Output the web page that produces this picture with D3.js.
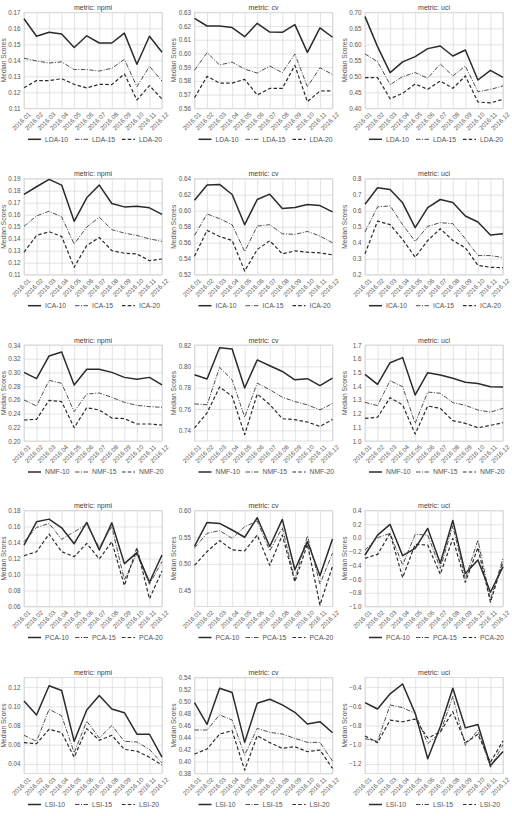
<!DOCTYPE html>
<html><head><meta charset="utf-8">
<script src="https://cdn.jsdelivr.net/npm/d3@7"></script>
<style>
body{margin:0;background:#fff;}
svg{display:block;font-family:"Liberation Sans",Arial,sans-serif;}
</style></head><body>
<svg id="c" width="512" height="816"></svg>
<script>
const months = ["2016.01","2016.02","2016.03","2016.04","2016.05","2016.06","2016.07","2016.08","2016.09","2016.10","2016.11","2016.12"];
const methods = ["LDA","ICA","NMF","PCA","LSI"];
const metrics = ["npmi","cv","uci"];
const topics = [10,15,20];

// series per panel: [topics-10, topics-15, topics-20]
const LDA_npmi = [
  [0.166,0.155,0.1575,0.1565,0.148,0.1553,0.1508,0.1508,0.157,0.1375,0.155,0.145],
  [0.1413,0.1396,0.1383,0.139,0.1342,0.1342,0.1333,0.135,0.1406,0.1235,0.1363,0.127],
  [0.1229,0.1273,0.1273,0.1285,0.125,0.1227,0.125,0.1248,0.1315,0.1152,0.1242,0.1158]];
const LDA_cv = [
  [0.6256,0.62,0.62,0.6189,0.6122,0.622,0.6156,0.6154,0.621,0.6008,0.6186,0.6118],
  [0.5877,0.6006,0.5916,0.5937,0.5886,0.5857,0.5908,0.586,0.5996,0.5757,0.5896,0.5847],
  [0.5677,0.5833,0.5784,0.5784,0.5811,0.5697,0.5745,0.5745,0.5913,0.5648,0.5726,0.5728]];
const LDA_uci = [
  [0.6865,0.5927,0.5115,0.545,0.5615,0.5865,0.5948,0.5635,0.5823,0.4885,0.5188,0.4969],
  [0.570,0.5458,0.474,0.499,0.5115,0.494,0.5385,0.501,0.532,0.452,0.459,0.47],
  [0.496,0.496,0.430,0.447,0.476,0.4594,0.4854,0.4625,0.501,0.4198,0.4167,0.4281]];
const ICA_npmi = [
  [0.1769,0.1833,0.1894,0.1847,0.1545,0.1741,0.1847,0.1693,0.1665,0.1671,0.1657,0.1603],
  [0.1503,0.159,0.1629,0.1582,0.1355,0.1497,0.1579,0.1475,0.1447,0.1427,0.1399,0.1377],
  [0.1287,0.1427,0.1458,0.1419,0.1162,0.1343,0.141,0.1301,0.1279,0.1273,0.1217,0.1231]];
const ICA_cv = [
  [0.6131,0.632,0.6329,0.6203,0.5825,0.614,0.6207,0.6027,0.6039,0.6077,0.6064,0.5985],
  [0.5691,0.5959,0.59,0.5825,0.5489,0.5808,0.5825,0.5712,0.5704,0.5741,0.5683,0.5599],
  [0.5431,0.5754,0.5678,0.5628,0.5246,0.5515,0.5624,0.546,0.5498,0.5481,0.5473,0.5448]];
const ICA_uci = [
  [0.6406,0.7434,0.7329,0.649,0.4937,0.6196,0.67,0.651,0.5671,0.5294,0.4476,0.456],
  [0.4665,0.6238,0.6301,0.5126,0.4077,0.5021,0.5252,0.5189,0.4245,0.3196,0.3196,0.307],
  [0.3301,0.5357,0.5126,0.4203,0.3091,0.414,0.4874,0.414,0.3678,0.2587,0.2461,0.244]];
const NMF_npmi = [
  [0.3001,0.2909,0.324,0.3298,0.2817,0.3045,0.3045,0.3001,0.2928,0.2899,0.2928,0.2817],
  [0.2598,0.251,0.2885,0.2841,0.2428,0.2685,0.27,0.2637,0.2564,0.252,0.2501,0.2491],
  [0.2306,0.2316,0.2593,0.2574,0.2194,0.2486,0.2452,0.2335,0.2326,0.2248,0.2248,0.2233]];
const NMF_cv = [
  [0.7921,0.7881,0.8175,0.8163,0.7797,0.806,0.8005,0.7952,0.7874,0.7884,0.7819,0.789],
  [0.7648,0.7639,0.799,0.7874,0.7524,0.7843,0.7781,0.771,0.767,0.7639,0.7592,0.7651],
  [0.7422,0.7564,0.7806,0.772,0.736,0.7741,0.7642,0.7509,0.75,0.7478,0.7437,0.7502]];
const NMF_uci = [
  [1.486,1.413,1.571,1.608,1.336,1.498,1.481,1.457,1.428,1.42,1.396,1.394],
  [1.282,1.258,1.44,1.396,1.129,1.357,1.348,1.28,1.26,1.226,1.211,1.238],
  [1.165,1.173,1.316,1.263,1.051,1.255,1.238,1.148,1.129,1.097,1.114,1.134]];
const PCA_npmi = [
  [0.1368,0.1659,0.1692,0.1584,0.1385,0.1651,0.1306,0.1646,0.1136,0.1273,0.0903,0.1244],
  [0.141,0.1588,0.1638,0.1439,0.1534,0.1626,0.1339,0.1597,0.0932,0.126,0.0878,0.116],
  [0.1235,0.1285,0.1505,0.1285,0.1223,0.1389,0.1194,0.141,0.0862,0.1335,0.0696,0.1044]];
const PCA_cv = [
  [0.533,0.5777,0.5758,0.5634,0.5498,0.5864,0.5324,0.5833,0.489,0.5417,0.4778,0.5467],
  [0.530,0.5572,0.5622,0.5479,0.5696,0.5802,0.5244,0.5678,0.4705,0.5523,0.4624,0.52],
  [0.4971,0.5231,0.5436,0.5262,0.5244,0.5541,0.4971,0.5541,0.4662,0.5368,0.4228,0.4952]];
const PCA_uci = [
  [-0.249,0.0416,0.197,-0.259,-0.152,0.138,-0.37,0.255,-0.52,-0.322,-0.792,-0.419],
  [-0.176,0.003,0.066,-0.394,0.052,0.042,-0.443,0.177,-0.598,-0.031,-0.903,-0.298],
  [-0.298,-0.239,0.066,-0.578,-0.094,-0.104,-0.53,-0.007,-0.646,-0.142,-0.937,-0.346]];
const LSI_npmi = [
  [0.1056,0.0909,0.1214,0.1165,0.0635,0.0961,0.1112,0.0972,0.0933,0.0709,0.0709,0.047],
  [0.0698,0.0635,0.0968,0.0902,0.0516,0.0846,0.067,0.08,0.0635,0.0628,0.0551,0.041],
  [0.0621,0.0611,0.0761,0.0726,0.047,0.0768,0.0646,0.0698,0.0551,0.0533,0.047,0.0389]];
const LSI_cv = [
  [0.4982,0.462,0.5222,0.5149,0.4319,0.4971,0.5038,0.4943,0.482,0.4626,0.4664,0.448],
  [0.4525,0.4525,0.4776,0.4692,0.4107,0.4553,0.4486,0.4458,0.4386,0.4319,0.4319,0.4007],
  [0.4124,0.4208,0.4458,0.4514,0.3856,0.4431,0.4314,0.4219,0.4247,0.4163,0.4191,0.3884]];
const LSI_uci = [
  [-0.561,-0.628,-0.47,-0.368,-0.674,-1.147,-0.814,-0.411,-0.825,-0.789,-1.218,-1.07],
  [-0.937,-0.965,-0.586,-0.614,-0.674,-0.989,-0.874,-0.498,-1.007,-0.849,-1.235,-1.0],
  [-0.909,-0.979,-0.744,-0.761,-0.733,-0.93,-0.867,-0.656,-0.979,-0.891,-1.182,-0.96]];

// y-axis ticks and limits per panel
const ticks_LDA = [[0.11,0.12,0.13,0.14,0.15,0.16,0.17],[0.56,0.57,0.58,0.59,0.60,0.61,0.62,0.63],[0.40,0.45,0.50,0.55,0.60,0.65,0.70]];
const ticks_ICA = [[0.11,0.12,0.13,0.14,0.15,0.16,0.17,0.18,0.19],[0.52,0.54,0.56,0.58,0.60,0.62,0.64],[0.2,0.3,0.4,0.5,0.6,0.7,0.8]];
const ticks_NMF = [[0.20,0.22,0.24,0.26,0.28,0.30,0.32,0.34],[0.74,0.76,0.78,0.80,0.82],[1.0,1.1,1.2,1.3,1.4,1.5,1.6,1.7]];
const ticks_PCA = [[0.06,0.08,0.10,0.12,0.14,0.16,0.18],[0.45,0.50,0.55,0.60],[-1.0,-0.8,-0.6,-0.4,-0.2,0.0,0.2,0.4]];
const ticks_LSI = [[0.04,0.06,0.08,0.10,0.12],[0.38,0.40,0.42,0.44,0.46,0.48,0.50,0.52,0.54],[-1.2,-1.0,-0.8,-0.6,-0.4]];
const lims_LDA = [[0.11,0.17],[0.56,0.63],[0.40,0.70]];
const lims_ICA = [[0.11,0.19],[0.52,0.64],[0.2,0.8]];
const lims_NMF = [[0.20,0.34],[0.73,0.82],[1.0,1.7]];
const lims_PCA = [[0.06,0.18],[0.42,0.60],[-1.0,0.4]];
const lims_LSI = [[0.03,0.13],[0.38,0.54],[-1.3,-0.3]];
const tickDigits = [2,2,2, 2,2,1, 2,2,1, 2,2,1, 2,2,1];

const seriesTable = {LDA:[LDA_npmi,LDA_cv,LDA_uci],ICA:[ICA_npmi,ICA_cv,ICA_uci],NMF:[NMF_npmi,NMF_cv,NMF_uci],PCA:[PCA_npmi,PCA_cv,PCA_uci],LSI:[LSI_npmi,LSI_cv,LSI_uci]};
const tickTable = {LDA:ticks_LDA,ICA:ticks_ICA,NMF:ticks_NMF,PCA:ticks_PCA,LSI:ticks_LSI};
const limTable = {LDA:lims_LDA,ICA:lims_ICA,NMF:lims_NMF,PCA:lims_PCA,LSI:lims_LSI};

const svg = d3.select("#c");
const W = 138, H = 96;
const colLeft = [24, 194.5, 365];
const rowTop = [12.3, 178.7, 345, 510.5, 677.5];
const styles = [
  {w:1.5, dash:null, col:"#2b2b2b"},
  {w:0.9, dash:"4.5,1.5,1,1.5", col:"#3a3a3a"},
  {w:1.2, dash:"3.5,2.2", col:"#2b2b2b"}
];
const textCol = "#555";

methods.forEach((m, r) => {
  metrics.forEach((met, c) => {
    const g = svg.append("g").attr("transform", `translate(${colLeft[c]},${rowTop[r]})`);
    const x = d3.scalePoint().domain(months).range([0, W]);
    const y = d3.scaleLinear().domain(limTable[m][c]).range([H, 0]);
    const dig = tickDigits[r*3+c];

    // grid via axes
    const gy = g.append("g").call(d3.axisLeft(y).tickValues(tickTable[m][c]).tickSize(-W).tickPadding(3).tickFormat(d3.format("." + dig + "f")));
    const gx = g.append("g").attr("transform", `translate(0,${H})`).call(d3.axisBottom(x).tickSize(-H).tickPadding(3));
    [gy, gx].forEach(a => {
      a.select(".domain").remove();
      a.selectAll(".tick line").attr("stroke", "#dcdcdc").attr("stroke-width", 0.8);
      a.selectAll("text").attr("fill", textCol).style("font-size", "6.3px");
    });
    gy.selectAll("text").attr("x", -3.5);
    gx.selectAll("text")
      .attr("text-anchor", "end")
      .attr("dy", "0.3em")
      .attr("transform", "translate(3,3) rotate(-45)");

    g.append("rect").attr("width", W).attr("height", H)
      .attr("fill", "none").attr("stroke", "#d4d4d4").attr("stroke-width", 0.8);

    g.append("text").attr("x", W/2).attr("y", -2.5).attr("text-anchor", "middle")
      .attr("fill", "#444").style("font-size", "7px").text("metric: " + met);

    g.append("text").attr("transform", `translate(-20.5,${H/2}) rotate(-90)`)
      .attr("text-anchor", "middle").attr("dy", "0.35em")
      .attr("fill", textCol).style("font-size", "6.6px").text("Median Scores");

    const line = d3.line().x((d, i) => x(months[i])).y(d => y(d));
    seriesTable[m][c].forEach((vals, k) => {
      const s = styles[k];
      g.append("path").datum(vals).attr("d", line)
        .attr("fill", "none").attr("stroke", s.col).attr("stroke-width", s.w)
        .attr("stroke-dasharray", s.dash).attr("stroke-linejoin", "round");
    });

    // legend
    const lg = g.append("g").attr("transform", `translate(0,${H + 31})`);
    topics.forEach((t, k) => {
      const s = styles[k];
      const ox = 4 + k * 47;
      lg.append("line").attr("x1", ox).attr("x2", ox + 13).attr("y1", 0).attr("y2", 0)
        .attr("stroke", s.col).attr("stroke-width", s.w).attr("stroke-dasharray", s.dash);
      lg.append("text").attr("x", ox + 17).attr("y", 0).attr("dy", "0.35em")
        .attr("fill", textCol).style("font-size", "6.8px").text(m + "-" + t);
    });
  });
});
</script>
</body></html>
